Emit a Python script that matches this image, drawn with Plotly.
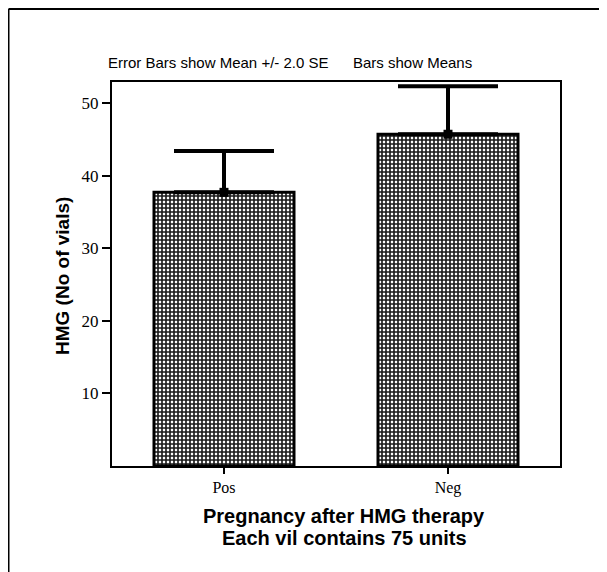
import plotly.graph_objects as go

categories = ["Pos", "Neg"]
means = [37.7, 45.7]
plus_2se = [5.7, 6.6]
y_ticks = [10, 20, 30, 40, 50]

OFF = 8  # page body margin in the browser
W, H = 607 - OFF, 572 - OFF
L, R, T, B = 112 - OFF, 560 - OFF, 82 - OFF, 466 - OFF


def px(x):
    return (x - OFF - L) / (R - L)


def py(y):
    return (B - (y - OFF)) / (B - T)


def note(text, x, y, size, family="Liberation Sans", angle=0):
    return dict(text=text, xref="paper", yref="paper", x=px(x), y=py(y),
                xanchor="center", yanchor="middle", showarrow=False,
                textangle=angle, font=dict(family=family, size=size, color="black"))


fig = go.Figure()
fig.add_trace(go.Bar(
    x=categories, y=means, width=0.625,
    marker=dict(color="white",
                line=dict(color="black", width=3),
                pattern=dict(shape="+", size=4, solidity=0.65,
                             fgcolor="#1a1a1a", bgcolor="white", fillmode="replace")),
    error_y=dict(type="data", symmetric=False, array=plus_2se,
                 arrayminus=[0, 0], color="black", thickness=4, width=50),
    showlegend=False, hoverinfo="skip",
))
fig.add_trace(go.Scatter(
    x=categories, y=means, mode="markers",
    marker=dict(symbol="square", size=9, color="black"),
    showlegend=False, hoverinfo="skip", cliponaxis=False,
))

fig.update_layout(
    width=W, height=H,
    margin=dict(l=L, r=W - R, t=T, b=H - B, pad=0),
    paper_bgcolor="white", plot_bgcolor="white",
    font=dict(family="Liberation Serif", color="black", size=14),
    xaxis=dict(range=[-0.5, 1.5], showgrid=False, zeroline=False,
               showline=True, linecolor="black", linewidth=2, mirror=True,
               ticks="outside", ticklen=6, tickwidth=2, tickcolor="black",
               tickfont=dict(family="Liberation Serif", size=16)),
    yaxis=dict(range=[0, 52.9], showgrid=False, zeroline=False,
               showline=True, linecolor="black", linewidth=2, mirror=True,
               tickvals=y_ticks, ticks="outside", ticklen=8, tickwidth=2,
               tickcolor="black",
               tickfont=dict(family="Liberation Serif", size=17)),
    shapes=[
        dict(type="line", xref="paper", yref="paper",
             x0=px(8.5), x1=px(620), y0=py(9), y1=py(9),
             line=dict(color="black", width=2)),
        dict(type="line", xref="paper", yref="paper",
             x0=px(8.5), x1=px(8.5), y0=py(9), y1=py(590),
             line=dict(color="black", width=2)),
    ],
    annotations=[
        note("Error Bars show Mean +/- 2.0 SE", 218, 62, 15),
        note("Bars show Means", 412, 62, 15),
        note("<b>HMG (No of vials)</b>", 62, 276, 19, angle=-90),
        note("<b>Pregnancy after HMG therapy</b>", 344, 516, 20),
        note("<b>Each vil contains 75 units</b>", 344, 538, 20),
    ],
)

fig.write_html("out.html")
